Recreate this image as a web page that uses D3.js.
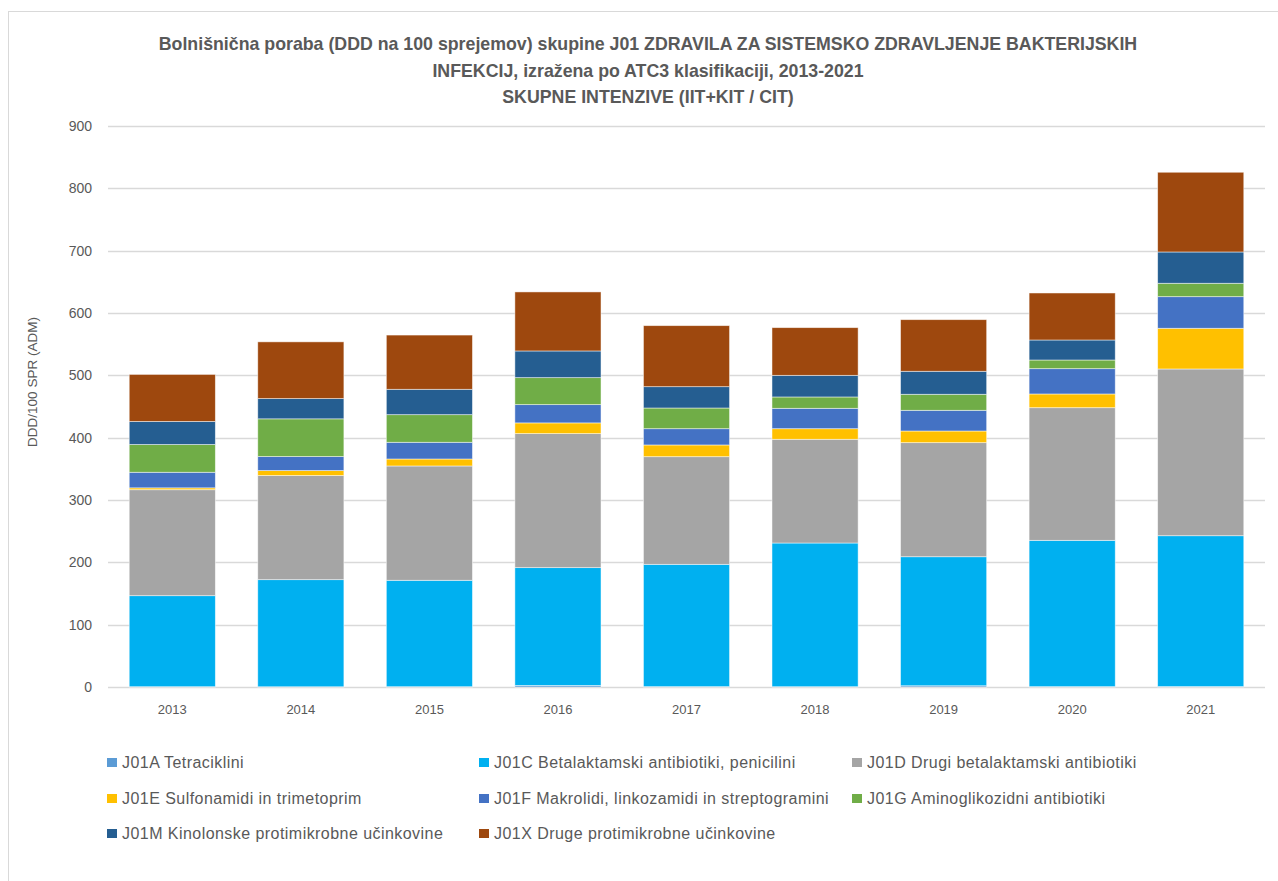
<!DOCTYPE html>
<html lang="sl">
<head>
<meta charset="utf-8">
<title>J01 poraba - skupne intenzive</title>
<script src="https://cdn.jsdelivr.net/npm/d3@7"></script>
<style>
    body { margin: 0; background: #fff; }
    svg text { font-family: "Liberation Sans", sans-serif; fill: #595959; }
</style>
</head>
<body>
<svg id="chart" width="1278" height="881"></svg>
<script>
    // categories
    let years = ['2013', '2014', '2015', '2016', '2017', '2018', '2019', '2020', '2021'];
    let y_ticks = [0, 100, 200, 300, 400, 500, 600, 700, 800, 900];

    // series (DDD/100 sprejemov)
    let j01a = [0.5, 0.4, 0.5, 2.5, 0.6, 0.5, 2.0, 0.6, 0.7];
    let j01c = [146.0, 171.8, 170.7, 189.0, 196.2, 230.5, 207.0, 234.7, 242.0];
    let j01d = [170.0, 167.0, 183.4, 215.0, 172.7, 166.4, 183.0, 212.8, 267.5];
    let j01e = [3.0, 8.0, 11.2, 17.2, 18.8, 17.0, 18.7, 22.0, 65.3];
    let j01f = [25.0, 22.5, 26.8, 29.3, 26.1, 32.7, 33.2, 40.6, 50.7];
    let j01g = [44.5, 60.5, 44.3, 43.3, 33.2, 18.2, 25.7, 13.9, 21.5];
    let j01m = [37.0, 32.5, 40.7, 42.8, 34.2, 34.7, 36.9, 32.1, 50.2];
    let j01x = [75.5, 91.0, 87.0, 94.7, 97.9, 76.5, 82.8, 75.4, 127.9];

    let series_names = [
        'J01A Tetraciklini',
        'J01C Betalaktamski antibiotiki, penicilini',
        'J01D Drugi betalaktamski antibiotiki',
        'J01E Sulfonamidi in trimetoprim',
        'J01F Makrolidi, linkozamidi in streptogramini',
        'J01G Aminoglikozidni antibiotiki',
        'J01M Kinolonske protimikrobne učinkovine',
        'J01X Druge protimikrobne učinkovine'
    ];
    let series_values = [j01a, j01c, j01d, j01e, j01f, j01g, j01m, j01x];
    let colors = ['#5B9BD5', '#00B0F0', '#A5A5A5', '#FFC000', '#4472C4', '#70AD47', '#255E91', '#9E480E'];

    let title_lines = [
        'Bolnišnična poraba (DDD na 100 sprejemov) skupine J01 ZDRAVILA ZA SISTEMSKO ZDRAVLJENJE BAKTERIJSKIH',
        'INFEKCIJ, izražena po ATC3 klasifikaciji, 2013-2021',
        'SKUPNE INTENZIVE (IIT+KIT / CIT)'
    ];
    let y_title = 'DDD/100 SPR (ADM)';

    // table for d3.stack
    let rows = years.map((yr, i) => {
        let r = { year: yr };
        series_names.forEach((s, k) => { r[s] = series_values[k][i]; });
        return r;
    });

    let svg = d3.select('#chart');

    // chart frame
    svg.append('rect')
        .attr('x', 8.5).attr('y', 11.5)
        .attr('width', 1300).attr('height', 900)
        .attr('fill', 'none')
        .attr('stroke', '#d9d9d9');

    let x = d3.scaleBand()
        .domain(years)
        .range([108, 1265])
        .paddingInner(0.33)
        .paddingOuter(0.165);

    let y = d3.scaleLinear()
        .domain([0, 900])
        .range([687, 126]);

    // gridlines
    svg.append('g')
        .selectAll('line')
        .data(y_ticks)
        .join('line')
        .attr('x1', 108).attr('x2', 1265)
        .attr('y1', d => Math.round(y(d)) + 0.5)
        .attr('y2', d => Math.round(y(d)) + 0.5)
        .attr('stroke', '#d9d9d9')
        .attr('stroke-width', 1.3);

    // y axis labels
    let yAxis = d3.axisLeft(y).tickValues(y_ticks).tickSize(0).tickPadding(0);
    let yg = svg.append('g')
        .attr('transform', 'translate(92,0)')
        .call(yAxis);
    yg.select('.domain').remove();
    yg.selectAll('text')
        .style('font-family', '"Liberation Sans", sans-serif')
        .style('font-size', '14px')
        .attr('fill', '#595959');

    // x axis labels
    let xAxis = d3.axisBottom(x).tickSize(0).tickPadding(0);
    let xg = svg.append('g')
        .attr('transform', 'translate(0,705)')
        .call(xAxis);
    xg.select('.domain').remove();
    xg.selectAll('text')
        .style('font-family', '"Liberation Sans", sans-serif')
        .style('font-size', '13px')
        .attr('fill', '#595959');

    // stacked bars
    let stack = d3.stack().keys(series_names);
    let layers = stack(rows);

    svg.append('g')
        .selectAll('g')
        .data(layers)
        .join('g')
        .attr('fill', (d, i) => colors[i])
        .selectAll('rect')
        .data(d => d)
        .join('rect')
        .attr('x', d => x(d.data.year))
        .attr('width', x.bandwidth())
        .attr('y', d => y(d[1]))
        .attr('height', d => y(d[0]) - y(d[1]))
        .attr('stroke', '#ffffff')
        .attr('stroke-opacity', 0.6)
        .attr('stroke-width', 0.8);

    // y axis title
    svg.append('text')
        .attr('transform', 'translate(37,382) rotate(-90)')
        .attr('text-anchor', 'middle')
        .style('font-size', '13.5px')
        .text(y_title);

    // title
    svg.append('g')
        .selectAll('text')
        .data(title_lines)
        .join('text')
        .attr('x', 648)
        .attr('y', (d, i) => 50 + i * 26.5)
        .attr('text-anchor', 'middle')
        .style('font-size', '17.75px')
        .style('font-weight', 'bold')
        .text(d => d);

    // legend, 3 columns
    let leg_x = [107, 479, 852];
    let leg_y = [763, 799, 834];
    let legend = svg.append('g')
        .selectAll('g')
        .data(series_names)
        .join('g')
        .attr('transform', (d, i) => `translate(${leg_x[i % 3]},${leg_y[Math.floor(i / 3)]})`);
    legend.append('rect')
        .attr('x', 0).attr('y', -5)
        .attr('width', 10).attr('height', 9)
        .attr('fill', (d, i) => colors[i]);
    legend.append('text')
        .attr('x', 15)
        .attr('y', 5)
        .style('font-size', '16px')
        .style('letter-spacing', '0.45px')
        .text(d => d);
</script>
</body>
</html>
